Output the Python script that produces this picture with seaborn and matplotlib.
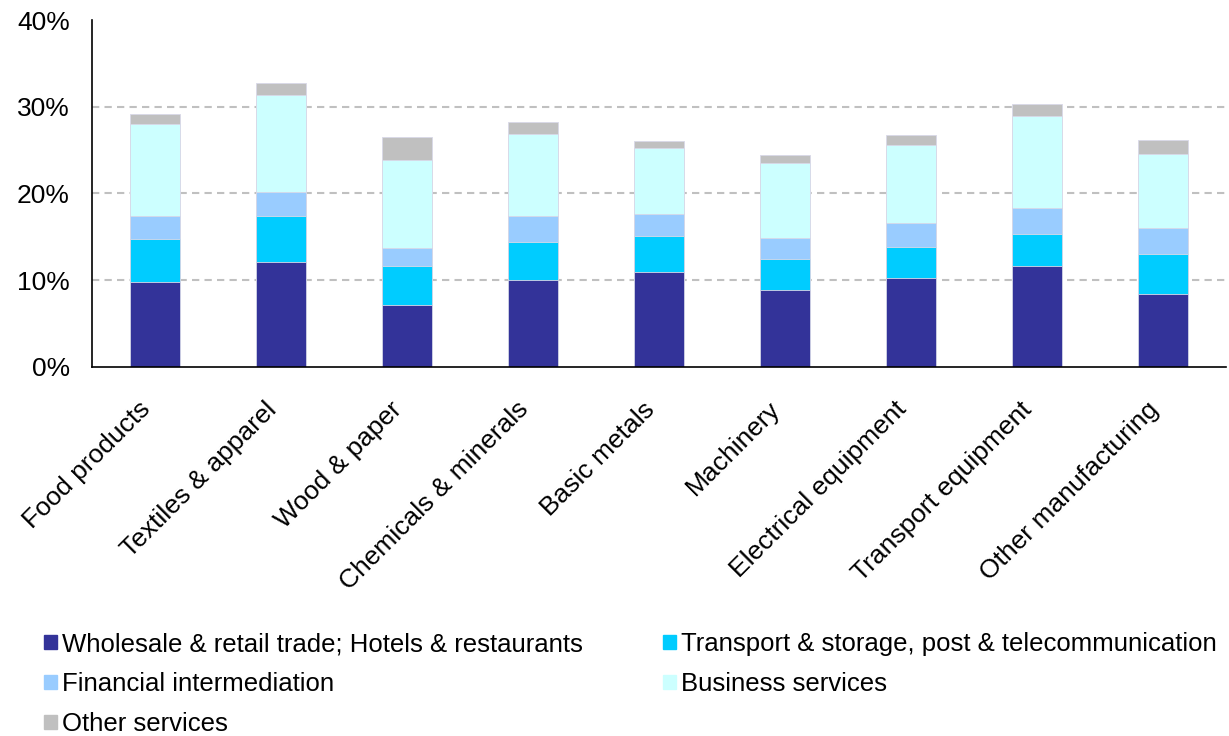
import seaborn as sns
import matplotlib.pyplot as plt
import matplotlib.patches as mpatches
import numpy as np
import pandas as pd

# sectors and service inputs (% of output)
sectors = ["Food products", "Textiles & apparel", "Wood & paper", "Chemicals & minerals",
           "Basic metals", "Machinery", "Electrical equipment", "Transport equipment",
           "Other manufacturing"]
wholesale = [9.8, 12.1, 7.2, 10.0, 10.9, 8.9, 10.3, 11.6, 8.4]
transport = [4.9, 5.3, 4.4, 4.4, 4.2, 3.5, 3.5, 3.7, 4.6]
financial = [2.7, 2.8, 2.1, 3.0, 2.5, 2.5, 2.8, 3.0, 3.0]
business = [10.6, 11.1, 10.2, 9.5, 7.6, 8.6, 9.0, 10.6, 8.6]
other = [1.2, 1.4, 2.6, 1.4, 0.9, 0.9, 1.2, 1.4, 1.6]

series = ["Wholesale & retail trade; Hotels & restaurants",
          "Transport & storage, post & telecommunication",
          "Financial intermediation", "Business services", "Other services"]
colors = ["#333399", "#00CCFF", "#99CCFF", "#CCFFFF", "#C0C0C0"]
yticks = [0, 10, 20, 30, 40]

sns.set_style("white")
plt.rcParams["font.family"] = ["Liberation Sans", "DejaVu Sans"]
plt.rcParams["text.color"] = "black"
plt.rcParams["xtick.color"] = "black"
plt.rcParams["ytick.color"] = "black"

df = pd.DataFrame({"Sector": sectors})
values = [wholesale, transport, financial, business, other]
cum = np.cumsum(np.array(values), axis=0)

fig = plt.figure(figsize=(12.29, 7.36), dpi=100)
ax = fig.add_axes([0.0749, 0.5014, 0.9227, 0.4714])

# stacked bars: draw cumulative totals from the top layer down
for i in range(len(series) - 1, -1, -1):
    df["v"] = cum[i]
    sns.barplot(data=df, x="Sector", y="v", color=colors[i], width=0.4,
                saturation=1, edgecolor="#d8d8e8", linewidth=0.6, ax=ax)

for y in yticks[1:-1]:
    ax.axhline(y, color="#c0c0c0", linestyle=(0, (3.5, 2.5)), linewidth=1.5, zorder=0)

ax.set_xlim(-0.5, len(sectors) - 0.5)
ax.set_ylim(0, 40)
ax.set_yticks(yticks)
ax.set_yticklabels([f"{t}%" for t in yticks], fontsize=19)
ax.set_xticks(range(len(sectors)))
ax.set_xticklabels(sectors, rotation=45, ha="right", va="bottom",
                   rotation_mode="anchor", fontsize=19)
ax.set_xticks(np.arange(-0.5, len(sectors)), minor=True)
ax.tick_params(axis="x", which="major", length=0, pad=34)
ax.tick_params(axis="x", which="minor", length=7, width=1.2, direction="out")
ax.tick_params(axis="y", length=7, width=1.2, direction="out", pad=9)
ax.set_xlabel("")
ax.set_ylabel("")
for s in ["top", "right"]:
    ax.spines[s].set_visible(False)
for s in ["left", "bottom"]:
    ax.spines[s].set_color("black")
    ax.spines[s].set_linewidth(1.2)

handles = [mpatches.Patch(color=c, label=l) for c, l in zip(colors, series)]
order = [0, 2, 4, 1, 3]
fig.legend([handles[i] for i in order], [series[i] for i in order],
           loc="upper left", bbox_to_anchor=(0.036, 0.141), ncol=2, frameon=False,
           fontsize=18.5, handlelength=0.5, handleheight=0.5, handletextpad=0.2,
           labelspacing=0.62, columnspacing=3.1, borderpad=0, borderaxespad=0)

fig.savefig("out.png", dpi=100)
